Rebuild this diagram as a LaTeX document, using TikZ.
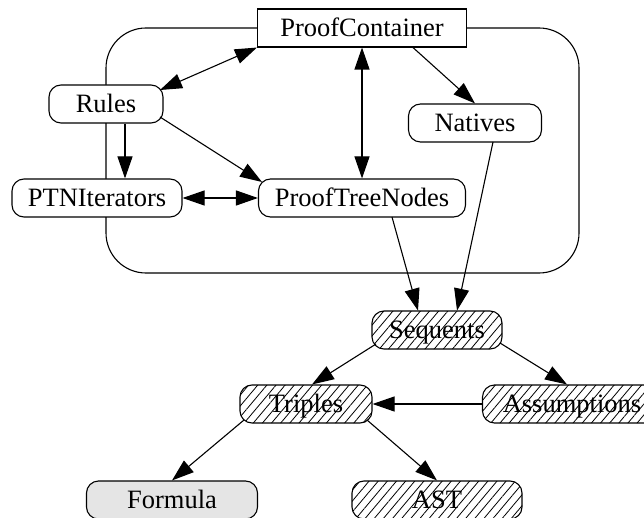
\documentclass[tikz,border=0pt]{standalone}
\usepackage{fontspec}
\setmainfont{Liberation Serif}
\usetikzlibrary{arrows.meta,patterns.meta}
\definecolor{lightfill}{HTML}{E5E5E5}
\begin{document}
\begin{tikzpicture}[x=1pt,y=-1pt,
  every node/.style={font=\fontsize{26.5}{30}\selectfont, text height=17pt, text depth=0pt,
                     inner sep=0pt, line width=1.1pt},
  plainbox/.style={draw, minimum height=38pt, fill=white},
  roundbox/.style={draw, rounded corners=12pt, minimum height=38pt, fill=white},
  hatchbox/.style={draw, rounded corners=12pt, minimum height=38pt,
                   pattern={Lines[angle=50,distance=7pt,line width=0.8pt]}},
  rel/.style={line width=1.1pt, -{Triangle[length=22pt,width=15pt]}},
  bothrel/.style={line width=1.1pt, {Triangle[length=22pt,width=15pt]}-{Triangle[length=22pt,width=15pt]}},
]
\useasboundingbox (0,0) rectangle (644,518);
\clip (0,0) rectangle (644,518);

% container cluster
\node[draw, rounded corners=40pt, minimum width=473pt, minimum height=245pt] (cluster) at (342.5,150.5) {};

% nodes
\node[plainbox, minimum width=209pt] (pc) at (362,28) {ProofContainer};
\node[roundbox, minimum width=114pt] (rules) at (106,104) {Rules};
\node[roundbox, minimum width=133pt] (natives) at (475,123) {Natives};
\node[roundbox, minimum width=170pt] (ptni) at (97,198) {PTNIterators};
\node[roundbox, minimum width=207pt] (ptn) at (362,198) {ProofTreeNodes};
\node[hatchbox, minimum width=130pt] (seq) at (437,330) {Sequents};
\node[hatchbox, minimum width=132pt] (tri) at (306,404) {Triples};
\node[hatchbox, minimum width=179pt] (asm) at (572,404) {Assumptions};
\node[roundbox, fill=lightfill, minimum width=171pt] (form) at (172,500) {Formula};
\node[hatchbox, minimum width=170pt] (ast) at (437,500) {AST};

% connectors
\draw[bothrel] (pc.south west) -- ([shift={(54,-14)}]rules.center);
\draw[bothrel] (pc.south) -- (ptn.north);
\draw[rel] ([xshift=51pt]pc.south) -- (natives.north);
\draw[rel] ([xshift=19pt]rules.south) -- ([xshift=28pt]ptni.north);
\draw[rel] ([shift={(54,13)}]rules.center) -- ([shift={(-100,-16)}]ptn.center);
\draw[bothrel] (ptni.east) -- (ptn.west);
\draw[rel] ([shift={(30,19)}]ptn.center) -- ([xshift=-19pt]seq.north);
\draw[rel] ([shift={(18,19)}]natives.center) -- ([xshift=20pt]seq.north);
\draw[rel] ([shift={(-61,14)}]seq.center) -- ([xshift=6pt]tri.north);
\draw[rel] ([shift={(63,13)}]seq.center) -- ([xshift=-5pt]asm.north);
\draw[rel] (asm.west) -- (tri.east);
\draw[rel] ([shift={(-62,16)}]tri.center) -- (form.north);
\draw[rel] ([shift={(61,16)}]tri.center) -- (ast.north);
\end{tikzpicture}
\end{document}
